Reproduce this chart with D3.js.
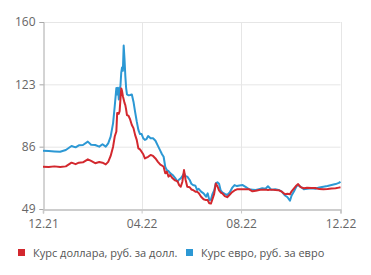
<!DOCTYPE html>
<html><head><meta charset="utf-8">
<script src="https://cdn.jsdelivr.net/npm/d3@7"></script>
<style>
html,body{margin:0;padding:0;background:#fff;}
svg{display:block;}
text{font-family:"Open Sans","DejaVu Sans",sans-serif;}
</style></head>
<body>
<svg id="chart" width="371" height="275"></svg>
<script>
const dates = ["2021-12-01","2021-12-08","2021-12-15","2021-12-22","2021-12-29","2022-01-05","2022-01-10","2022-01-14","2022-01-19","2022-01-25","2022-01-29","2022-02-03","2022-02-08","2022-02-12","2022-02-16","2022-02-19","2022-02-22","2022-02-25","2022-02-27","2022-03-01","2022-03-02","2022-03-03","2022-03-04","2022-03-05","2022-03-06","2022-03-07","2022-03-08","2022-03-09","2022-03-10","2022-03-11","2022-03-12","2022-03-13","2022-03-14","2022-03-16","2022-03-18","2022-03-20","2022-03-22","2022-03-24","2022-03-26","2022-03-28","2022-03-30","2022-04-01","2022-04-03","2022-04-05","2022-04-07","2022-04-09","2022-04-12","2022-04-15","2022-04-18","2022-04-21","2022-04-24","2022-04-26","2022-04-28","2022-04-30","2022-05-02","2022-05-04","2022-05-06","2022-05-09","2022-05-12","2022-05-15","2022-05-17","2022-05-19","2022-05-21","2022-05-23","2022-05-25","2022-05-27","2022-05-30","2022-06-01","2022-06-03","2022-06-06","2022-06-08","2022-06-10","2022-06-13","2022-06-16","2022-06-19","2022-06-21","2022-06-23","2022-06-25","2022-06-27","2022-06-29","2022-07-01","2022-07-03","2022-07-05","2022-07-07","2022-07-09","2022-07-12","2022-07-15","2022-07-18","2022-07-21","2022-07-24","2022-07-27","2022-07-30","2022-08-03","2022-08-07","2022-08-11","2022-08-15","2022-08-19","2022-08-23","2022-08-27","2022-08-31","2022-09-03","2022-09-07","2022-09-12","2022-09-16","2022-09-20","2022-09-24","2022-09-27","2022-09-30","2022-10-02","2022-10-05","2022-10-08","2022-10-10","2022-10-13","2022-10-17","2022-10-21","2022-10-26","2022-10-31","2022-11-05","2022-11-10","2022-11-15","2022-11-20","2022-11-25","2022-11-29","2022-12-01"];
const usd = [74.1,73.9,74.3,74.0,74.3,76.5,75.6,76.5,76.7,78.5,77.5,76.2,76.9,76.5,75.5,77.0,80.5,86.0,92.0,95.0,106.0,106.0,105.5,107.0,114.0,120.6,119.0,116.0,114.0,112.0,110.7,108.0,104.8,104.3,102.0,98.9,97.0,93.0,90.0,85.0,84.4,83.0,81.5,79.0,79.5,80.0,81.1,80.5,79.0,77.0,75.3,74.8,74.1,70.2,71.1,68.2,69.2,67.2,66.0,65.5,63.2,62.2,65.2,72.1,66.2,62.2,61.9,60.6,60.3,59.3,59.3,58.5,56.3,54.8,54.3,54.3,52.4,52.2,55.0,58.0,64.2,62.5,60.0,58.8,58.3,56.7,56.0,57.5,59.0,60.0,60.7,60.7,60.7,60.7,60.7,59.5,59.8,60.3,60.5,60.5,60.3,60.5,60.3,60.2,59.3,57.7,58.0,57.8,59.5,61.3,63.0,63.8,62.0,61.3,61.6,61.5,61.5,60.8,60.7,60.9,61.2,61.3,61.7,61.9];
const eur = [83.6,83.4,83.2,83.0,84.0,86.4,85.6,86.8,87.0,89.0,87.2,87.0,86.0,87.4,86.0,88.0,92.0,100.0,110.0,120.8,117.0,121.0,114.0,120.0,122.0,130.0,133.0,131.0,146.0,138.0,128.0,120.8,117.0,116.5,116.7,117.0,112.7,106.7,101.0,96.0,93.5,93.5,91.0,90.0,90.5,92.3,91.0,91.0,89.5,86.5,83.5,81.5,80.0,74.0,72.1,71.5,70.3,69.2,67.5,65.2,66.5,67.2,68.5,70.2,68.5,68.2,66.2,64.0,63.2,62.8,60.3,61.0,59.3,58.3,56.3,58.3,54.3,54.5,58.0,60.0,64.2,64.8,64.0,60.0,58.8,58.0,57.3,58.8,61.5,63.2,62.6,63.0,63.2,62.0,60.7,60.5,60.3,60.8,61.3,61.0,62.5,60.5,60.7,60.3,59.3,57.0,56.0,53.9,57.0,59.5,62.5,63.2,62.2,60.7,61.0,61.3,61.0,61.8,62.2,62.6,63.2,63.8,64.5,65.2];
const yTicks = [49,86,123,160];
const xTickDates = ["2021-12-01","2022-04-01","2022-08-01","2022-12-01"];
const xTickLabels = ["12.21","04.22","08.22","12.22"];
const seriesNames = ["Курс доллара, руб. за долл.","Курс евро, руб. за евро"];
const seriesColors = ["#d3282e","#2c98d4"];

const parse = d3.timeParse("%Y-%m-%d");
const svg = d3.select("#chart");
const x = d3.scaleTime().domain([parse("2021-12-01"), parse("2022-12-01")]).range([43, 340.5]);
const y = d3.scaleLinear().domain([49,160]).range([209,22]);

// grid
const g = svg.append("g");
g.selectAll(".hg").data(yTicks.slice(1)).enter().append("line")
  .attr("x1",43).attr("x2",340.5).attr("y1",d=>y(d)+0.5).attr("y2",d=>y(d)+0.5)
  .attr("stroke","#e6e6e6").attr("stroke-width",1);
g.selectAll(".vg").data(xTickDates.slice(1)).enter().append("line")
  .attr("x1",d=>Math.round(x(parse(d)))+0.5).attr("x2",d=>Math.round(x(parse(d)))+0.5)
  .attr("y1",22).attr("y2",209)
  .attr("stroke","#e6e6e6").attr("stroke-width",1);

// y axis
const yAxis = d3.axisLeft(y).tickValues(yTicks).tickSize(4).tickPadding(4).tickFormat(d3.format("d"));
const ya = svg.append("g").attr("transform","translate(43.5,0)").call(yAxis);
ya.select(".domain").attr("stroke","#a8a8a8");
ya.selectAll(".tick line").attr("stroke","#a8a8a8");
ya.selectAll(".tick text").attr("fill","#666").style("font-size","12px").attr("font-family","Open Sans, sans-serif");

// x axis
const xAxis = d3.axisBottom(x).tickValues(xTickDates.map(parse)).tickSize(4).tickPadding(6)
  .tickFormat((d,i)=>xTickLabels[i]);
const xa = svg.append("g").attr("transform","translate(0,209.5)").call(xAxis);
xa.select(".domain").attr("stroke","#bdbdbd").attr("stroke-width",1.5);
xa.selectAll(".tick line").attr("stroke","#c8c8c8");
xa.selectAll(".tick text").attr("fill","#666").style("font-size","12px").attr("font-family","Open Sans, sans-serif");

// lines
const data = dates.map((d,i)=>({date:parse(d), usd:usd[i], eur:eur[i]}));
const lineUsd = d3.line().x(d=>x(d.date)).y(d=>y(d.usd));
const lineEur = d3.line().x(d=>x(d.date)).y(d=>y(d.eur));
svg.append("path").datum(data).attr("d",lineEur).attr("fill","none")
  .attr("stroke",seriesColors[1]).attr("stroke-width",2).attr("stroke-linejoin","round");
svg.append("path").datum(data).attr("d",lineUsd).attr("fill","none")
  .attr("stroke",seriesColors[0]).attr("stroke-width",2).attr("stroke-linejoin","round");

// legend
const legX = [18, 186];
const leg = svg.selectAll(".leg").data(seriesNames).enter().append("g")
  .attr("transform",(d,i)=>`translate(${legX[i]},249)`);
leg.append("rect").attr("width",7).attr("height",7).attr("fill",(d,i)=>seriesColors[i]);
leg.append("text").attr("x",15).attr("y",7.5).text(d=>d)
  .attr("fill","#555").style("font-size","11px");
</script>
</body></html>
